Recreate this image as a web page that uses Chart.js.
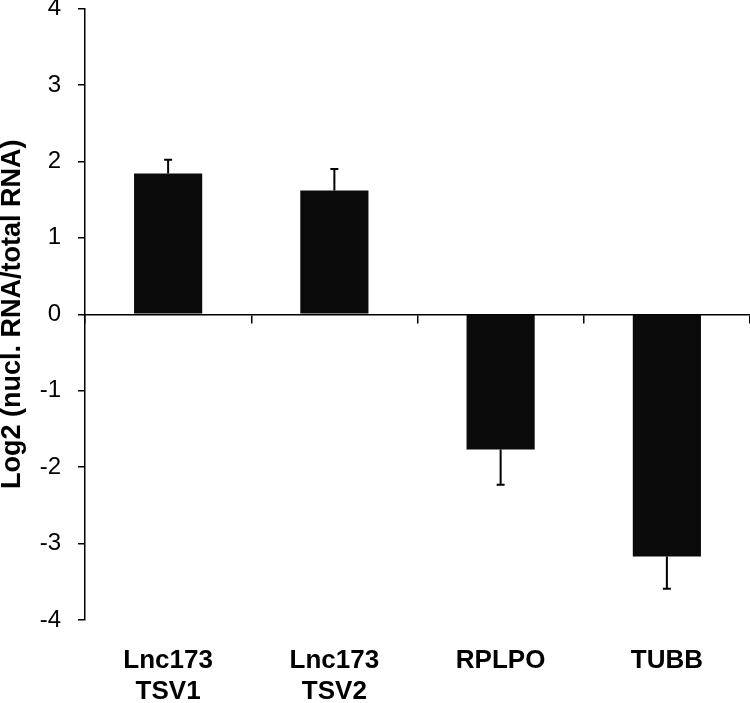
<!DOCTYPE html>
<html>
<head>
<meta charset="utf-8">
<script src="https://cdn.jsdelivr.net/npm/chart.js@4"></script>
<style>
  html, body { margin: 0; padding: 0; background: #fff; }
  #wrap { width: 750px; height: 703px; }
</style>
</head>
<body>
<div id="wrap"><canvas id="log2Chart"></canvas></div>
<script>
// Data
const categories = [['Lnc173', 'TSV1'], ['Lnc173', 'TSV2'], 'RPLPO', 'TUBB'];
const log2Values = [1.84, 1.62, -1.77, -3.17];
const errValues = [0.18, 0.28, 0.46, 0.42];
const yTicks = [-4, -3, -2, -1, 0, 1, 2, 3, 4];

const FONT = "'Liberation Sans', Arial, sans-serif";

// one-sided error bars, drawn away from zero
const errorBars = {
    id: 'errorBars',
    afterDatasetsDraw(chart) {
        const ctx = chart.ctx;
        const meta = chart.getDatasetMeta(0);
        const yScale = chart.scales.y;
        ctx.save();
        ctx.strokeStyle = '#000';
        ctx.lineWidth = 2;
        meta.data.forEach(function (bar, i) {
            const v = log2Values[i];
            const e = errValues[i];
            const yStart = yScale.getPixelForValue(v);
            const yEnd = yScale.getPixelForValue(v >= 0 ? v + e : v - e);
            ctx.beginPath();
            ctx.moveTo(bar.x, yStart);
            ctx.lineTo(bar.x, yEnd);
            ctx.moveTo(bar.x - 4, yEnd);
            ctx.lineTo(bar.x + 4, yEnd);
            ctx.stroke();
        });
        ctx.restore();
    }
};

document.addEventListener('DOMContentLoaded', function () {
    const ctx = document.getElementById('log2Chart').getContext('2d');

    new Chart(ctx, {
        type: 'bar',
        data: {
            labels: categories,
            datasets: [{
                data: log2Values,
                backgroundColor: '#0a0a0a',
                borderWidth: 0,
                categoryPercentage: 1,
                barPercentage: 0.41
            }]
        },
        options: {
            responsive: true,
            maintainAspectRatio: false,
            animation: false,
            layout: { padding: 0 },
            plugins: {
                legend: { display: false },
                tooltip: { enabled: false }
            },
            scales: {
                // labels along the bottom
                x: {
                    type: 'category',
                    position: 'bottom',
                    offset: true,
                    grid: { display: false, drawTicks: false },
                    border: { display: false },
                    ticks: {
                        color: '#000',
                        padding: 25,
                        maxRotation: 0,
                        autoSkip: false,
                        font: { family: FONT, size: 26, weight: 'bold', lineHeight: 1.2 }
                    },
                    afterFit: function (scale) { scale.height = 83; }
                },
                // axis line at zero with ticks between categories
                x2: {
                    type: 'category',
                    position: { y: 0 },
                    offset: true,
                    grid: {
                        offset: true,
                        drawOnChartArea: false,
                        drawTicks: true,
                        tickLength: 8,
                        color: '#000',
                        lineWidth: 1.5
                    },
                    border: { display: true, color: '#000', width: 1.5 },
                    ticks: { display: false }
                },
                y: {
                    min: -4,
                    max: 4,
                    afterBuildTicks: function (scale) {
                        scale.ticks = yTicks.map(function (v) { return { value: v }; });
                    },
                    grid: {
                        drawOnChartArea: false,
                        drawTicks: true,
                        tickLength: 7,
                        color: '#000',
                        lineWidth: 1.5
                    },
                    border: { display: true, color: '#000', width: 1.5 },
                    ticks: {
                        color: '#000',
                        padding: 17,
                        font: { family: FONT, size: 24 }
                    },
                    title: {
                        display: true,
                        text: 'Log2 (nucl. RNA/total RNA)',
                        color: '#000',
                        padding: 0,
                        font: { family: FONT, size: 27, weight: 'bold', lineHeight: 0.9 }
                    },
                    afterFit: function (scale) {
                        scale.width = 85;
                        scale.paddingTop = 8.5;
                        scale.paddingBottom = 8.5;
                    }
                }
            }
        },
        plugins: [errorBars]
    });
});
</script>
</body>
</html>
